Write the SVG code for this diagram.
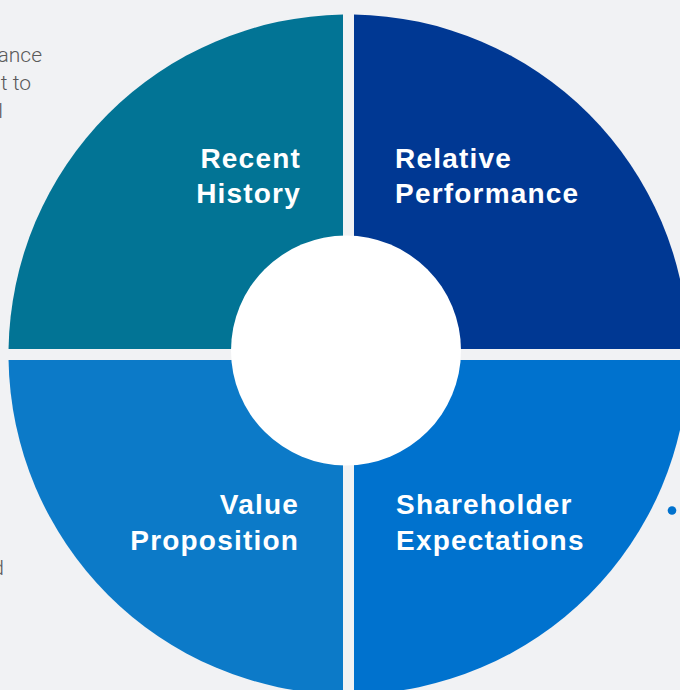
<svg xmlns="http://www.w3.org/2000/svg" width="680" height="690" viewBox="0 0 680 690">
<style>
.lbl{font-family:"Liberation Sans",Arial,sans-serif;font-weight:bold;font-size:28px;fill:#ffffff;letter-spacing:1.2px}
.side{font-family:Roboto,"Liberation Sans",sans-serif;font-weight:300;font-size:21px;fill:#5a5a5a}
</style>
<rect width="680" height="690" fill="#f1f2f4"/>
<g id="side-text">
<text class="side" x="42" y="62" text-anchor="end">ance</text>
<text class="side" x="31" y="90" text-anchor="end">t to</text>
<text class="side" x="3" y="118" text-anchor="end">l</text>
<text class="side" x="4" y="575" text-anchor="end">d</text>
</g>
<g id="recent-history">
<path d="M343,349 L343,14.54 A340,340 0 0 0 8.54,349 Z" fill="#027495"/>
<text class="lbl" text-anchor="end"><tspan x="301" y="168">Recent</tspan><tspan x="301" y="203">History</tspan></text>
</g>
<g id="relative-performance">
<path d="M354,349 L354,14.54 A340,340 0 0 1 688.46,349 Z" fill="#003893"/>
<text class="lbl"><tspan x="395" y="168">Relative</tspan><tspan x="395" y="203">Performance</tspan></text>
</g>
<g id="shareholder-expectations">
<path d="M354,360 L688.46,360 A340,340 0 0 1 354,694.46 Z" fill="#0072ce"/>
<text class="lbl"><tspan x="396" y="514">Shareholder</tspan><tspan x="396" y="550">Expectations</tspan></text>
</g>
<g id="value-proposition">
<path d="M343,360 L343,694.46 A340,340 0 0 1 8.54,360 Z" fill="#0c7ac8"/>
<text class="lbl" text-anchor="end"><tspan x="299" y="514">Value</tspan><tspan x="299" y="550">Proposition</tspan></text>
</g>
<g id="center">
<circle cx="346" cy="350.5" r="115" fill="#ffffff"/>
</g>
<g id="connectors">
<circle cx="672" cy="510.5" r="4.3" fill="#0072ce"/>
</g>
</svg>
